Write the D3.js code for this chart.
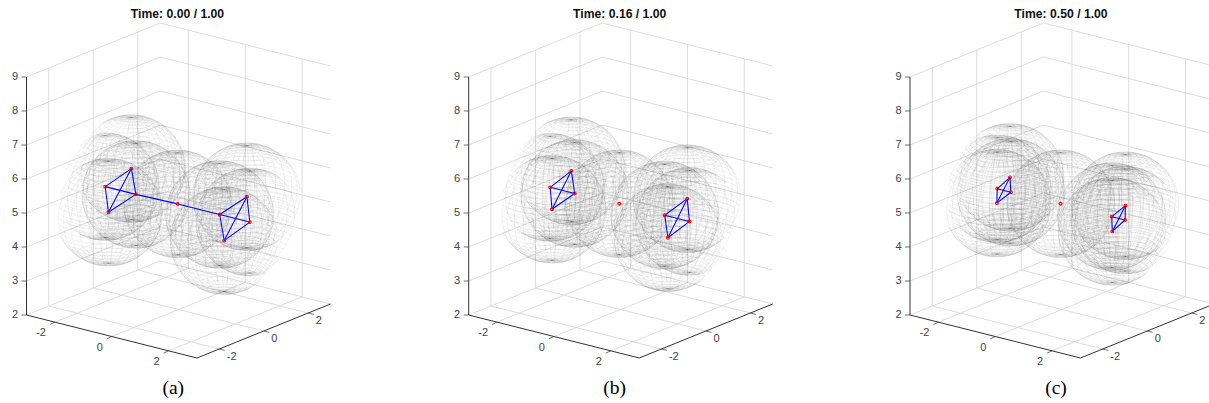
<!DOCTYPE html>
<html>
<head>
<meta charset="utf-8">
<script src="https://d3js.org/d3.v7.min.js"></script>
<style>
  html, body { margin: 0; padding: 0; background: #fff; }
  svg { display: block; }
</style>
</head>
<body>
<div id="chart"></div>
<script>
/* values: [x, y, z] of the nine sphere centres */
var titles = ['Time: 0.00 / 1.00', 'Time: 0.16 / 1.00', 'Time: 0.50 / 1.00'];
var captions = ['(a)', '(b)', '(c)'];
var nodesT000 = [
  [-2.58, 0, 5.07], [-2.05, 0.50, 5.58], [-1.50, 0, 5.07], [-2.05, -0.53, 4.57],
  [1.45, 0, 5.10], [2, 0.52, 5.60], [2.51, 0, 5.10], [2, -0.50, 4.58],
  [-0.03, 0, 5.10]
];
var nodesT016 = [
  [-2.48, 0, 5.07], [-2.05, 0.40, 5.54], [-1.62, 0, 5.07], [-2.05, -0.47, 4.64],
  [1.55, 0, 5.10], [1.99, 0.45, 5.56], [2.42, 0, 5.10], [1.99, -0.42, 4.64],
  [-0.05, 0, 5.10]
];
var nodesT050 = [
  [-2.28, 0, 5.07], [-2.05, 0.28, 5.38], [-1.80, 0, 5.07], [-2.05, -0.31, 4.78],
  [1.75, 0, 5.10], [1.99, 0.31, 5.39], [2.22, 0, 5.10], [1.99, -0.28, 4.79],
  [-0.05, 0, 5.10]
];
var tetraEdges = [[0, 1], [1, 2], [0, 2], [0, 3], [3, 2], [3, 1],
                  [4, 5], [5, 6], [4, 6], [4, 7], [7, 6], [7, 5]];
var chainEdges = [[2, 8], [8, 4]];
var xyTicks = [-2, 0, 2];
var zTicks = [2, 3, 4, 5, 6, 7, 8, 9];
var sphereRadius = 1.5;
var frames = [
  {nodes: nodesT000, edges: tetraEdges.concat(chainEdges), left: 0, zAxisColor: '#333', zAxisWidth: 1, captionX: 173.3},
  {nodes: nodesT016, edges: tetraEdges, left: 442.2, zAxisColor: '#333', zAxisWidth: 1, captionX: 172.5},
  {nodes: nodesT050, edges: tetraEdges, left: 883.5, zAxisColor: '#808080', zAxisWidth: 1.6, captionX: 172.5}
];

var width = 1209;
var height = 403;
var meshCount = 30;
var font = '"Liberation Sans", Arial, sans-serif';

/* oblique axes: each data axis adds its own screen x and y */
var xToH = d3.scaleLinear().domain([-3, 3]).range([0, 170.5]);
var xToV = d3.scaleLinear().domain([-3, 3]).range([0, 43]);
var yToH = d3.scaleLinear().domain([-3, 3]).range([0, 133.5]);
var yToV = d3.scaleLinear().domain([-3, 3]).range([0, -54]);
var zToV = d3.scaleLinear().domain([2, 9]).range([0, -238]);

function px(p) { return 26.5 + xToH(p[0]) + yToH(p[1]); }
function py(p) { return 315 + xToV(p[0]) + yToV(p[1]) + zToV(p[2]); }

var line3d = d3.line()
  .defined(function(p) { return Math.abs(p[0]) <= 3; })
  .x(px)
  .y(py);

function spherePath(c) {
  var d = '';
  var i, j, rows, th, ph;
  for (i = 0; i <= meshCount; i++) {
    ph = -Math.PI / 2 + Math.PI * i / meshCount;
    rows = [];
    for (j = 0; j <= meshCount; j++) {
      th = -Math.PI + 2 * Math.PI * j / meshCount;
      rows.push([c[0] + sphereRadius * Math.cos(ph) * Math.cos(th),
        c[1] + sphereRadius * Math.cos(ph) * Math.sin(th),
        c[2] + sphereRadius * Math.sin(ph)]);
    }
    d += line3d(rows);
  }
  for (j = 0; j < meshCount; j++) {
    th = -Math.PI + 2 * Math.PI * j / meshCount;
    rows = [];
    for (i = 0; i <= meshCount; i++) {
      ph = -Math.PI / 2 + Math.PI * i / meshCount;
      rows.push([c[0] + sphereRadius * Math.cos(ph) * Math.cos(th),
        c[1] + sphereRadius * Math.cos(ph) * Math.sin(th),
        c[2] + sphereRadius * Math.sin(ph)]);
    }
    d += line3d(rows);
  }
  return d;
}

function drawGrid(g) {
  var segs = [];
  zTicks.forEach(function(z) {
    segs.push([[-3, -3, z], [-3, 3, z]]);
    segs.push([[-3, 3, z], [3, 3, z]]);
  });
  xyTicks.forEach(function(t) {
    segs.push([[t, -3, 2], [t, 3, 2]]);
    segs.push([[-3, t, 2], [3, t, 2]]);
    segs.push([[-3, t, 2], [-3, t, 9]]);
    segs.push([[t, 3, 2], [t, 3, 9]]);
  });
  g.selectAll('.grid').data(segs).enter().append('path')
    .attr('class', 'grid')
    .attr('d', line3d)
    .attr('fill', 'none')
    .attr('stroke', '#d4d4d4')
    .attr('stroke-width', 0.8);
}

function drawAxes(g, frame) {
  var axes = [
    {seg: [[-3, -3, 2], [3, -3, 2]], color: '#333', w: 1},
    {seg: [[3, -3, 2], [3, 3, 2]], color: '#333', w: 1},
    {seg: [[-3, -3, 2], [-3, -3, 9]], color: frame.zAxisColor, w: frame.zAxisWidth}
  ];
  g.selectAll('.axis').data(axes).enter().append('path')
    .attr('class', 'axis')
    .attr('d', function(d) { return line3d(d.seg); })
    .attr('fill', 'none')
    .attr('stroke', function(d) { return d.color; })
    .attr('stroke-width', function(d) { return d.w; });

  function ticks(values, base, dx, dy) {
    g.selectAll(null).data(values).enter().append('line')
      .attr('x1', function(v) { return px(base(v)); })
      .attr('y1', function(v) { return py(base(v)); })
      .attr('x2', function(v) { return px(base(v)) + dx; })
      .attr('y2', function(v) { return py(base(v)) + dy; })
      .attr('stroke', '#333')
      .attr('stroke-width', 0.7);
  }
  function labels(values, base, dx, dy, anchor) {
    g.selectAll(null).data(values).enter().append('text')
      .attr('x', function(v) { return px(base(v)) + dx; })
      .attr('y', function(v) { return py(base(v)) + dy; })
      .attr('text-anchor', anchor)
      .attr('dominant-baseline', 'central')
      .attr('font-family', font)
      .attr('font-size', 11)
      .attr('fill', '#444')
      .text(function(v) { return v; });
  }
  function onX(v) { return [v, -3, 2]; }
  function onY(v) { return [3, v, 2]; }
  function onZ(v) { return [-3, -3, v]; }

  ticks(xyTicks, onX, -5, 2.3);
  ticks(xyTicks, onY, 5.5, 1.4);
  ticks(zTicks, onZ, -5, 0);
  labels(xyTicks, onX, -9, 10, 'end');
  labels(xyTicks, onY, 7.5, 7, 'start');
  labels(zTicks, onZ, -8.5, -1.5, 'end');
}

var svg = d3.select('#chart').append('svg')
  .attr('width', width)
  .attr('height', height);

frames.forEach(function(frame, k) {
  var g = svg.append('g').attr('transform', 'translate(' + frame.left + ',0)');

  drawGrid(g);
  drawAxes(g, frame);

  g.selectAll('.sphere').data(frame.nodes).enter().append('path')
    .attr('class', 'sphere')
    .attr('d', spherePath)
    .attr('fill', 'none')
    .attr('stroke', '#000')
    .attr('stroke-opacity', 0.115)
    .attr('stroke-width', 0.45);

  g.selectAll('.edge').data(frame.edges).enter().append('line')
    .attr('class', 'edge')
    .attr('x1', function(e) { return px(frame.nodes[e[0]]); })
    .attr('y1', function(e) { return py(frame.nodes[e[0]]); })
    .attr('x2', function(e) { return px(frame.nodes[e[1]]); })
    .attr('y2', function(e) { return py(frame.nodes[e[1]]); })
    .attr('stroke', '#0000ff')
    .attr('stroke-width', 1.05);

  g.selectAll('.node').data(frame.nodes).enter().append('circle')
    .attr('class', 'node')
    .attr('cx', px)
    .attr('cy', py)
    .attr('r', 1.4)
    .attr('fill', 'none')
    .attr('stroke', '#ff0000')
    .attr('stroke-width', 1.1);

  g.append('text')
    .attr('x', 177.5)
    .attr('y', 17.5)
    .attr('text-anchor', 'middle')
    .attr('font-family', font)
    .attr('font-weight', 'bold')
    .attr('font-size', 12.2)
    .attr('fill', '#111')
    .text(titles[k]);

  g.append('text')
    .attr('x', frame.captionX)
    .attr('y', 394)
    .attr('text-anchor', 'middle')
    .attr('font-family', '"Liberation Serif", "Times New Roman", serif')
    .attr('font-size', 19.5)
    .attr('fill', '#000')
    .text(captions[k]);
});
</script>
</body>
</html>
